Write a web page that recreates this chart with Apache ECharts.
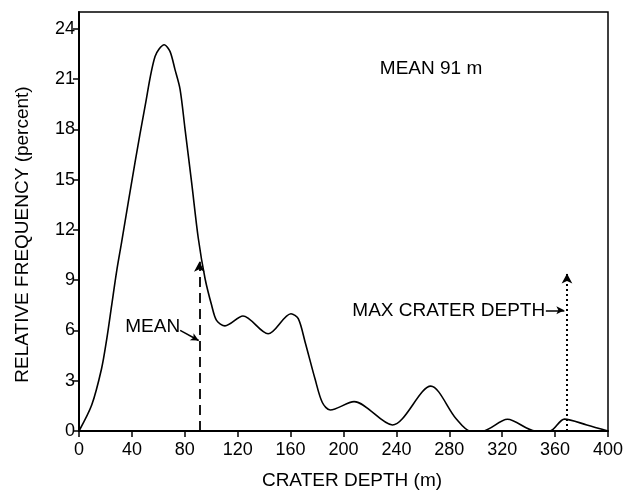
<!DOCTYPE html>
<html>
<head>
<meta charset="utf-8">
<script src="https://cdn.jsdelivr.net/npm/echarts@6/dist/echarts.min.js"></script>
<style>
  html, body { margin: 0; padding: 0; background: #fff; }
  #chart { width: 631px; height: 495px; }
</style>
</head>
<body>
<div id="chart"></div>
<script>
// crater depth (m) and relative frequency (percent)
const depth = [0, 9.6, 17, 21, 24.7, 28.4, 32.3, 42.3, 50, 57.5, 64.5, 68.8, 72.6, 76.4, 80.2, 85.2, 90.2,
  95.3, 100.3, 104, 110.4, 124, 143, 160.3, 165.8, 171, 178.5, 184, 190, 208, 237, 266, 285, 296, 305,
  324, 345, 356, 367, 384, 400];
const freq = [0, 1.55, 3.7, 5.5, 7.5, 9.5, 11.3, 16, 19.4, 22.35, 23.05, 22.65, 21.56, 20.4, 18, 14.8, 11.5,
  9.1, 7.5, 6.6, 6.27, 6.86, 5.8, 7.0, 6.7, 5.3, 3.1, 1.7, 1.25, 1.75, 0.36, 2.68, 0.75, 0, 0,
  0.7, 0, 0, 0.71, 0.36, 0];
const yTicks = [0, 3, 6, 9, 12, 15, 18, 21, 24];
const meanDepth = 91;
const maxDepth = 369;

const font = 'Liberation Sans';
let myChart = echarts.init(document.getElementById('chart'));

myChart.setOption({
  animation: false,
  grid: {
    left: 79,
    right: 23,
    top: 12,
    bottom: 62,
    show: true,
    borderColor: '#000',
    borderWidth: 1.5
  },
  xAxis: {
    type: 'value',
    min: 0,
    max: 400,
    interval: 40,
    name: 'CRATER DEPTH (m)',
    nameLocation: 'middle',
    nameGap: 40,
    nameTextStyle: { color: '#000', fontFamily: font, fontSize: 19, padding: [0, 0, 0, 17] },
    splitLine: { show: false },
    axisLine: { lineStyle: { color: '#000', width: 2 } },
    axisTick: { length: 6, lineStyle: { color: '#000', width: 1.5 } },
    axisLabel: { color: '#000', fontFamily: font, fontSize: 18, margin: 10 }
  },
  yAxis: {
    type: 'value',
    min: 0,
    max: 25,
    name: 'RELATIVE FREQUENCY (percent)',
    nameLocation: 'middle',
    nameGap: 47,
    nameTextStyle: { color: '#000', fontFamily: font, fontSize: 19, padding: [0, 26, 0, 0] },
    splitLine: { show: false },
    axisLine: { lineStyle: { color: '#000', width: 2 } },
    axisTick: { length: 6, customValues: yTicks, lineStyle: { color: '#000', width: 1.5 } },
    axisLabel: { color: '#000', fontFamily: font, fontSize: 18, margin: 4, customValues: yTicks }
  },
  series: [{
    type: 'line',
    data: depth.map((d, i) => [d, freq[i]]),
    smooth: 0.3,
    symbol: 'none',
    lineStyle: { color: '#000', width: 1.6 },
    markLine: {
      silent: true,
      animation: false,
      label: { show: false },
      symbolSize: [8, 10],
      data: [
        // mean
        [{ coord: [meanDepth, 0], symbol: 'none', lineStyle: { type: [10, 6], width: 1.8, color: '#000' } },
         { coord: [meanDepth, 10.1], symbol: 'arrow' }],
        // max crater depth
        [{ coord: [maxDepth, 0], symbol: 'none', lineStyle: { type: [2, 3], width: 2, color: '#000' } },
         { coord: [maxDepth, 9.4], symbol: 'arrow' }],
        // pointer arrows from labels
        [{ coord: [76.5, 6.0], symbol: 'none', lineStyle: { type: 'solid', width: 1.5, color: '#000' } },
         { coord: [meanDepth - 0.5, 5.4], symbol: 'arrow', symbolSize: [6, 8] }],
        [{ coord: [353, 7.2], symbol: 'none', lineStyle: { type: 'solid', width: 1.5, color: '#000' } },
         { coord: [maxDepth - 2, 7.2], symbol: 'arrow', symbolSize: [6, 8] }]
      ]
    },
    markPoint: {
      silent: true,
      symbol: 'circle',
      symbolSize: 0,
      label: { show: true, color: '#000', fontFamily: font, fontSize: 19, distance: 0 },
      data: [
        { coord: [76.5, 6.2], label: { position: 'left', formatter: 'MEAN' } },
        { coord: [352.5, 7.2], label: { position: 'left', formatter: 'MAX CRATER DEPTH' } },
        { coord: [227.5, 21.6], label: { position: 'right', formatter: 'MEAN 91 m' } }
      ]
    }
  }]
});

window.addEventListener('resize', function () {
  myChart.resize();
});
</script>
</body>
</html>
